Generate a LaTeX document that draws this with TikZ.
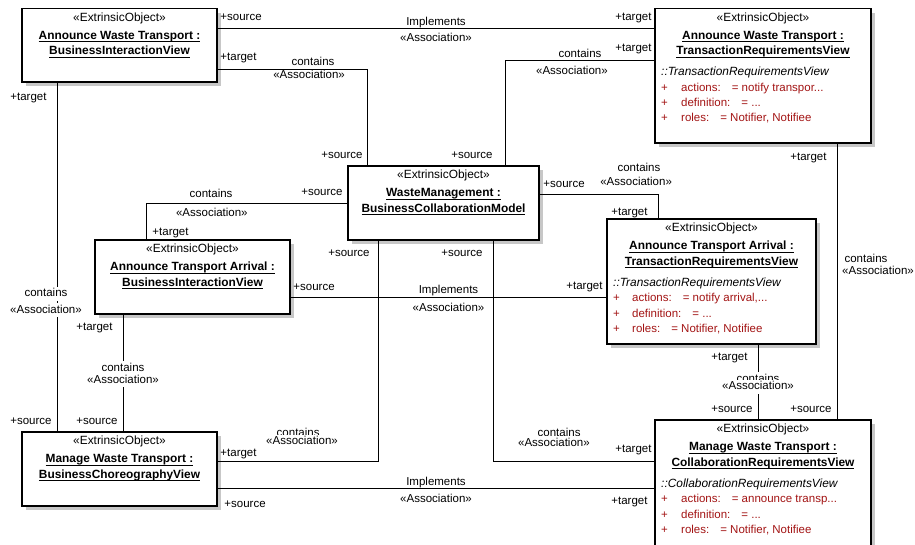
\documentclass[tikz,border=0pt]{standalone}
\usepackage{fontspec}
\setmainfont{Liberation Sans}
\usetikzlibrary{shadows}
\definecolor{attrred}{RGB}{163,20,20}
\newcommand{\dfont}{\fontsize{11.5}{14}\selectfont}
\newcommand{\bfont}{\fontsize{11.9}{14}\selectfont}
\newcommand{\objul}[1]{\vtop{\hbox{\vphantom{A}\smash{#1}}\kern2.2pt\hrule height 0.8pt}}

\begin{document}
\begin{tikzpicture}[x=1pt, y=-1pt, font=\dfont,
  obj/.style={draw, line width=1.1pt, fill=white, anchor=north west,
    inner sep=0pt, outer sep=0pt,
    drop shadow={shadow xshift=4pt, shadow yshift=-4pt, fill=black!22, opacity=1}},
  stereo/.style={inner sep=0pt, anchor=base, font=\bfont},
  oname/.style={inner sep=0pt, anchor=base, font=\bfont\bfseries},
  oclass/.style={inner sep=0pt, anchor=base west, font=\bfont\itshape},
  oattr/.style={inner sep=0pt, anchor=base west, text=attrred},
  assoc/.style={line width=0.9pt},
  role/.style={inner sep=0pt},
  mid/.style={inner sep=0pt, anchor=base},
  cover/.style={mid, fill=white, inner sep=1.5pt, text height=8.5pt, text depth=2.5pt}]
\useasboundingbox (0,0) rectangle (915,544);

% objects
\node[obj, minimum width=195pt, minimum height=73.5pt] (awtBiv) at (22,8.5) {};
\node[stereo] (awtBivS) at ([yshift=-12.5pt]awtBiv.north) {«ExtrinsicObject»};
\node[oname] (awtBivN1) at ([yshift=-30.5pt]awtBiv.north) {\objul{Announce Waste Transport :}};
\node[oname] (awtBivN2) at ([yshift=-46pt]awtBiv.north) {\objul{BusinessInteractionView}};

\node[obj, minimum width=216pt, minimum height=134.5pt] (awtTrv) at (655,8.5) {};
\node[stereo] (awtTrvS) at ([yshift=-12.5pt]awtTrv.north) {«ExtrinsicObject»};
\node[oname] (awtTrvN1) at ([yshift=-30.5pt]awtTrv.north) {\objul{Announce Waste Transport :}};
\node[oname] (awtTrvN2) at ([yshift=-46pt]awtTrv.north) {\objul{TransactionRequirementsView}};
\node[oclass] (awtTrvC) at ([xshift=6pt, yshift=-67pt]awtTrv.north west) {::TransactionRequirementsView};
\node[oattr] (awtTrvA1) at ([xshift=6pt, yshift=-82.5pt]awtTrv.north west) {\makebox[20pt][l]{+}actions:\hspace{11pt}= notify transpor...};
\node[oattr] (awtTrvA2) at ([xshift=6pt, yshift=-98pt]awtTrv.north west) {\makebox[20pt][l]{+}definition:\hspace{11pt}= ...};
\node[oattr] (awtTrvA3) at ([xshift=6pt, yshift=-113pt]awtTrv.north west) {\makebox[20pt][l]{+}roles:\hspace{11pt}= Notifier, Notifiee};

\node[obj, minimum width=191pt, minimum height=74pt] (wmBcm) at (348,166) {};
\node[stereo] (wmBcmS) at ([yshift=-12.5pt]wmBcm.north) {«ExtrinsicObject»};
\node[oname] (wmBcmN1) at ([yshift=-30.5pt]wmBcm.north) {\objul{WasteManagement :}};
\node[oname] (wmBcmN2) at ([yshift=-46pt]wmBcm.north) {\objul{BusinessCollaborationModel}};

\node[obj, minimum width=195pt, minimum height=74pt] (ataBiv) at (95,240) {};
\node[stereo] (ataBivS) at ([yshift=-12.5pt]ataBiv.north) {«ExtrinsicObject»};
\node[oname] (ataBivN1) at ([yshift=-30.5pt]ataBiv.north) {\objul{Announce Transport Arrival :}};
\node[oname] (ataBivN2) at ([yshift=-46pt]ataBiv.north) {\objul{BusinessInteractionView}};

\node[obj, minimum width=209pt, minimum height=125pt] (ataTrv) at (607,219) {};
\node[stereo] (ataTrvS) at ([yshift=-12.5pt]ataTrv.north) {«ExtrinsicObject»};
\node[oname] (ataTrvN1) at ([yshift=-30.5pt]ataTrv.north) {\objul{Announce Transport Arrival :}};
\node[oname] (ataTrvN2) at ([yshift=-46pt]ataTrv.north) {\objul{TransactionRequirementsView}};
\node[oclass] (ataTrvC) at ([xshift=6pt, yshift=-67pt]ataTrv.north west) {::TransactionRequirementsView};
\node[oattr] (ataTrvA1) at ([xshift=6pt, yshift=-82.5pt]ataTrv.north west) {\makebox[19pt][l]{+}actions:\hspace{11pt}= notify arrival,...};
\node[oattr] (ataTrvA2) at ([xshift=6pt, yshift=-98pt]ataTrv.north west) {\makebox[19pt][l]{+}definition:\hspace{11pt}= ...};
\node[oattr] (ataTrvA3) at ([xshift=6pt, yshift=-113pt]ataTrv.north west) {\makebox[19pt][l]{+}roles:\hspace{11pt}= Notifier, Notifiee};

\node[obj, minimum width=195pt, minimum height=74pt] (mwtBcv) at (22,432) {};
\node[stereo] (mwtBcvS) at ([yshift=-12.5pt]mwtBcv.north) {«ExtrinsicObject»};
\node[oname] (mwtBcvN1) at ([yshift=-30.5pt]mwtBcv.north) {\objul{Manage Waste Transport :}};
\node[oname] (mwtBcvN2) at ([yshift=-46pt]mwtBcv.north) {\objul{BusinessChoreographyView}};

\node[obj, minimum width=216pt, minimum height=135pt] (mwtCrv) at (655,420) {};
\node[stereo] (mwtCrvS) at ([yshift=-12.5pt]mwtCrv.north) {«ExtrinsicObject»};
\node[oname] (mwtCrvN1) at ([yshift=-30.5pt]mwtCrv.north) {\objul{Manage Waste Transport :}};
\node[oname] (mwtCrvN2) at ([yshift=-46pt]mwtCrv.north) {\objul{CollaborationRequirementsView}};
\node[oclass] (mwtCrvC) at ([xshift=6pt, yshift=-67pt]mwtCrv.north west) {::CollaborationRequirementsView};
\node[oattr] (mwtCrvA1) at ([xshift=6pt, yshift=-82.5pt]mwtCrv.north west) {\makebox[20pt][l]{+}actions:\hspace{11pt}= announce transp...};
\node[oattr] (mwtCrvA2) at ([xshift=6pt, yshift=-98pt]mwtCrv.north west) {\makebox[20pt][l]{+}definition:\hspace{11pt}= ...};
\node[oattr] (mwtCrvA3) at ([xshift=6pt, yshift=-113pt]mwtCrv.north west) {\makebox[20pt][l]{+}roles:\hspace{11pt}= Notifier, Notifiee};

% associations
\draw[assoc] ([yshift=-19.5pt]awtBiv.north east) -- ([yshift=-19.5pt]awtTrv.north west)
  node[role, at start, anchor=base west, xshift=3pt, yshift=7.5pt] {+source}
  node[mid, midway, yshift=3pt] {Implements}
  node[mid, midway, yshift=-13.5pt] {«Association»}
  node[role, at end, anchor=base east, xshift=-3pt, yshift=7.5pt] {+target};

\draw[assoc] ([yshift=-60.5pt]awtBiv.north east) -| ([xshift=19pt]wmBcm.north west)
  node[role, at start, anchor=base west, xshift=3pt, yshift=9pt] {+target}
  node[mid, pos=0.32, yshift=4pt] {contains}
  node[mid, pos=0.307, yshift=-9.5pt] {«Association»}
  node[role, at end, anchor=base east, xshift=-4pt, yshift=7.7pt] {+source};

\draw[assoc] ([xshift=157pt]wmBcm.north west) |- ([yshift=-51.5pt]awtTrv.north west)
  node[role, at start, anchor=base east, xshift=-12pt, yshift=7.7pt] {+source}
  node[mid, pos=0.75, yshift=3pt] {contains}
  node[mid, pos=0.723, yshift=-14pt] {«Association»}
  node[role, at end, anchor=base east, xshift=-3pt, yshift=8.3pt] {+target};

\draw[assoc] ([yshift=-37pt]wmBcm.north west) -| ([xshift=51pt]ataBiv.north west)
  node[role, at start, anchor=base east, xshift=-5pt, yshift=8pt] {+source}
  node[mid, pos=0.339, yshift=6pt] {contains}
  node[mid, pos=0.337, yshift=-13.5pt] {«Association»}
  node[role, at end, anchor=base west, xshift=6pt, yshift=5pt] {+target};

\draw[assoc] ([yshift=-28pt]wmBcm.north east) -| ([xshift=51pt]ataTrv.north west)
  node[role, at start, anchor=base west, xshift=4pt, yshift=7pt] {+source}
  node[mid, pos=0.42, yshift=23pt] {contains}
  node[mid, pos=0.408, yshift=9pt] {«Association»}
  node[role, at end, anchor=base east, xshift=-10pt, yshift=4pt] {+target};

\draw[assoc] ([yshift=-57pt]ataBiv.north east) -- ([yshift=-78pt]ataTrv.north west)
  node[role, at start, anchor=base west, xshift=3pt, yshift=7pt] {+source}
  node[mid, midway, yshift=4pt] {Implements}
  node[mid, midway, yshift=-14pt] {«Association»}
  node[role, at end, anchor=base east, xshift=-4pt, yshift=8pt] {+target};

\draw[assoc] ([xshift=35pt]awtBiv.south west) -- ([xshift=35pt]mwtBcv.north west)
  node[role, at start, anchor=base east, xshift=-10pt, yshift=-18pt] {+target}
  node[cover, pos=0.614, xshift=-11pt] {contains}
  node[cover, pos=0.66, xshift=-11pt] {«Association»}
  node[role, at end, anchor=base east, xshift=-5pt, yshift=8pt] {+source};

\draw[assoc] ([xshift=28pt]ataBiv.south west) -- ([xshift=101pt]mwtBcv.north west)
  node[role, at start, anchor=base east, xshift=-10pt, yshift=-16pt] {+target}
  node[cover, pos=0.483] {contains}
  node[cover, pos=0.585] {«Association»}
  node[role, at end, anchor=base east, xshift=-5pt, yshift=8pt] {+source};

\draw[assoc] ([xshift=30pt]wmBcm.south west) |- ([yshift=-29pt]mwtBcv.north east)
  node[role, at start, anchor=base east, xshift=-8pt, yshift=-16pt] {+source}
  node[cover, pos=0.748, yshift=24.5pt] {contains}
  node[cover, pos=0.736, yshift=16.5pt] {«Association»}
  node[role, at end, anchor=base west, xshift=3pt, yshift=5pt] {+target};

\draw[assoc] ([xshift=145pt]wmBcm.south west) |- ([yshift=-41pt]mwtCrv.north west)
  node[role, at start, anchor=base east, xshift=-10pt, yshift=-16pt] {+source}
  node[cover, pos=0.704, yshift=25pt] {contains}
  node[cover, pos=0.688, yshift=15pt] {«Association»}
  node[role, at end, anchor=base east, xshift=-3pt, yshift=9pt] {+target};

\draw[assoc] ([yshift=-56pt]mwtBcv.north east) -- ([yshift=-68pt]mwtCrv.north west)
  node[role, at start, anchor=base west, xshift=7pt, yshift=-19pt] {+source}
  node[mid, midway, yshift=3pt] {Implements}
  node[mid, midway, yshift=-14pt] {«Association»}
  node[role, at end, anchor=base east, xshift=-7pt, yshift=-16pt] {+target};

\draw[assoc] ([xshift=151pt]ataTrv.south west) -- ([xshift=103pt]mwtCrv.north west)
  node[role, at start, anchor=base east, xshift=-10pt, yshift=-16pt] {+target}
  node[cover, pos=0.5] {contains}
  node[cover, pos=0.605] {«Association»}
  node[role, at end, anchor=base east, xshift=-5pt, yshift=8pt] {+source};

\draw[assoc] ([xshift=182pt]awtTrv.south west) -- ([xshift=182pt]mwtCrv.north west)
  node[role, at start, anchor=base east, xshift=-10pt, yshift=-17pt] {+target}
  node[mid, pos=0.433, xshift=29pt] {contains}
  node[mid, pos=0.473, xshift=41pt] {«Association»}
  node[role, at end, anchor=base east, xshift=-5pt, yshift=8pt] {+source};
\end{tikzpicture}
\end{document}
